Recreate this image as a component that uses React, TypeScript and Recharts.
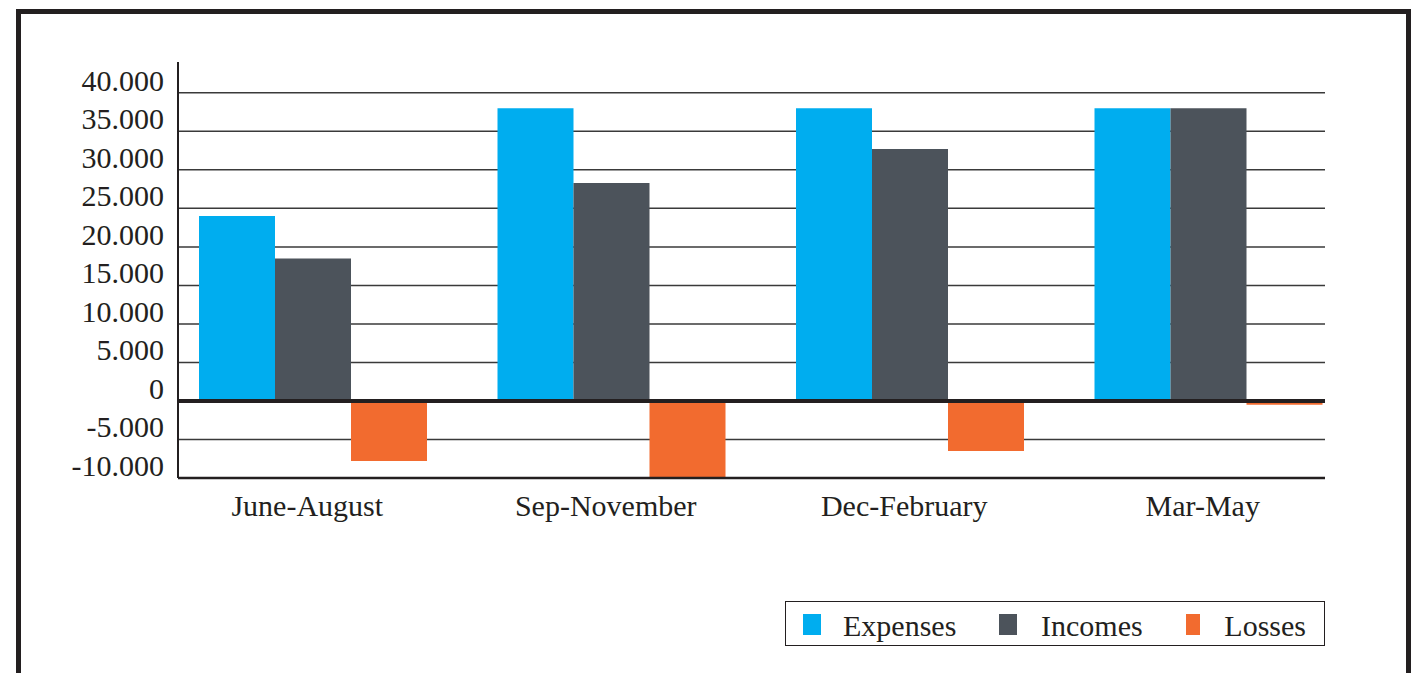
import { BarChart, Bar, XAxis, YAxis, CartesianGrid, ReferenceLine } from 'recharts'

// ─── Data ────────────────────────────────────────────────────────────────────

const categories = ['June-August', 'Sep-November', 'Dec-February', 'Mar-May']
const expenses = [24000, 38000, 38000, 38000]
const incomes = [18500, 28300, 32700, 38000]
const losses = [-7800, -10000, -6500, -500]
const yTicks = [-10000, -5000, 0, 5000, 10000, 15000, 20000, 25000, 30000, 35000, 40000]

const SERIES = [
  { key: 'expenses', name: 'Expenses', color: '#00adef' },
  { key: 'incomes', name: 'Incomes', color: '#4c535b' },
  { key: 'losses', name: 'Losses', color: '#f26b2f' },
]

const data = categories.map((c, i) => ({
  period: c,
  expenses: expenses[i],
  incomes: incomes[i],
  losses: losses[i],
}))

const INK = '#231f20'
const FONT = '"Liberation Serif", "Times New Roman", serif'

// 40000 -> "40.000"
const fmt = (v: number) => {
  const s = Math.abs(v).toString().replace(/\B(?=(\d{3})+(?!\d))/g, '.')
  return v < 0 ? `-${s}` : s
}

// ─── Ticks ───────────────────────────────────────────────────────────────────

function YTick({ x, y, payload }: any) {
  return (
    <text x={x - 6} y={y - 2} textAnchor="end" fill={INK} fontSize={30} fontFamily={FONT}>
      {fmt(payload.value)}
    </text>
  )
}

function XTick({ x, y, payload }: any) {
  return (
    <text x={x - 6} y={y + 30} textAnchor="middle" fill={INK} fontSize={30} fontFamily={FONT}>
      {payload.value}
    </text>
  )
}

// ─── Legend (boxed, sits under the plot on the right) ───────────────────────

const ITEM_W = [196, 187, 120]

function BoxLegend() {
  return (
    <div
      style={{
        position: 'absolute',
        left: 785,
        top: 601,
        boxSizing: 'border-box',
        width: 540,
        height: 45,
        border: `1.5px solid ${INK}`,
        display: 'flex',
        alignItems: 'center',
        paddingLeft: 17,
        fontFamily: FONT,
        fontSize: 30,
        color: INK,
        background: '#fff',
      }}
    >
      {SERIES.map((s, i) => (
        <div key={s.key} style={{ display: 'flex', alignItems: 'center', width: ITEM_W[i], flexShrink: 0 }}>
          <span style={{ width: 18, height: 21, background: s.color, marginRight: i === 0 ? 22 : 24, marginTop: 2 }} />
          <span style={{ lineHeight: '30px', marginTop: 4, whiteSpace: 'nowrap' }}>{s.name}</span>
        </div>
      ))}
    </div>
  )
}

// ─── Chart ───────────────────────────────────────────────────────────────────

export default function App() {
  return (
    <div style={{ position: 'absolute', left: 0, top: 0, width: 1420, height: 673, overflow: 'hidden', background: '#fff' }}>
      <div
        style={{
          position: 'absolute',
          left: 16,
          top: 9,
          width: 1395,
          height: 720,
          boxSizing: 'border-box',
          border: `5px solid ${INK}`,
        }}
      />
      <div style={{ position: 'absolute', left: 0, top: 0 }}>
        <BarChart
          width={1420}
          height={673}
          data={data}
          margin={{ top: 62, right: 95, bottom: 165, left: 0 }}
          barGap={0}
          style={{ fontFamily: FONT }}
        >
          {/* grid only on the labelled ticks, none along the plot's top edge */}
          <CartesianGrid vertical={false} stroke="#3a3a3a" strokeWidth={1.5} syncWithTicks />
          <XAxis
            dataKey="period"
            height={30}
            tick={<XTick />}
            tickLine={false}
            axisLine={{ stroke: INK, strokeWidth: 2.5 }}
            padding={{ left: -14, right: -33 }}
            interval={0}
          />
          <YAxis
            width={178}
            domain={[-10000, 44000]}
            ticks={yTicks}
            interval={0}
            tick={<YTick />}
            tickLine={false}
            axisLine={{ stroke: INK, strokeWidth: 2 }}
          />
          <ReferenceLine y={0} stroke={INK} strokeWidth={4} />
          {SERIES.map(s => (
            <Bar key={s.key} dataKey={s.key} name={s.name} fill={s.color} barSize={76} isAnimationActive={false} />
          ))}
        </BarChart>
      </div>
      <BoxLegend />
    </div>
  )
}
